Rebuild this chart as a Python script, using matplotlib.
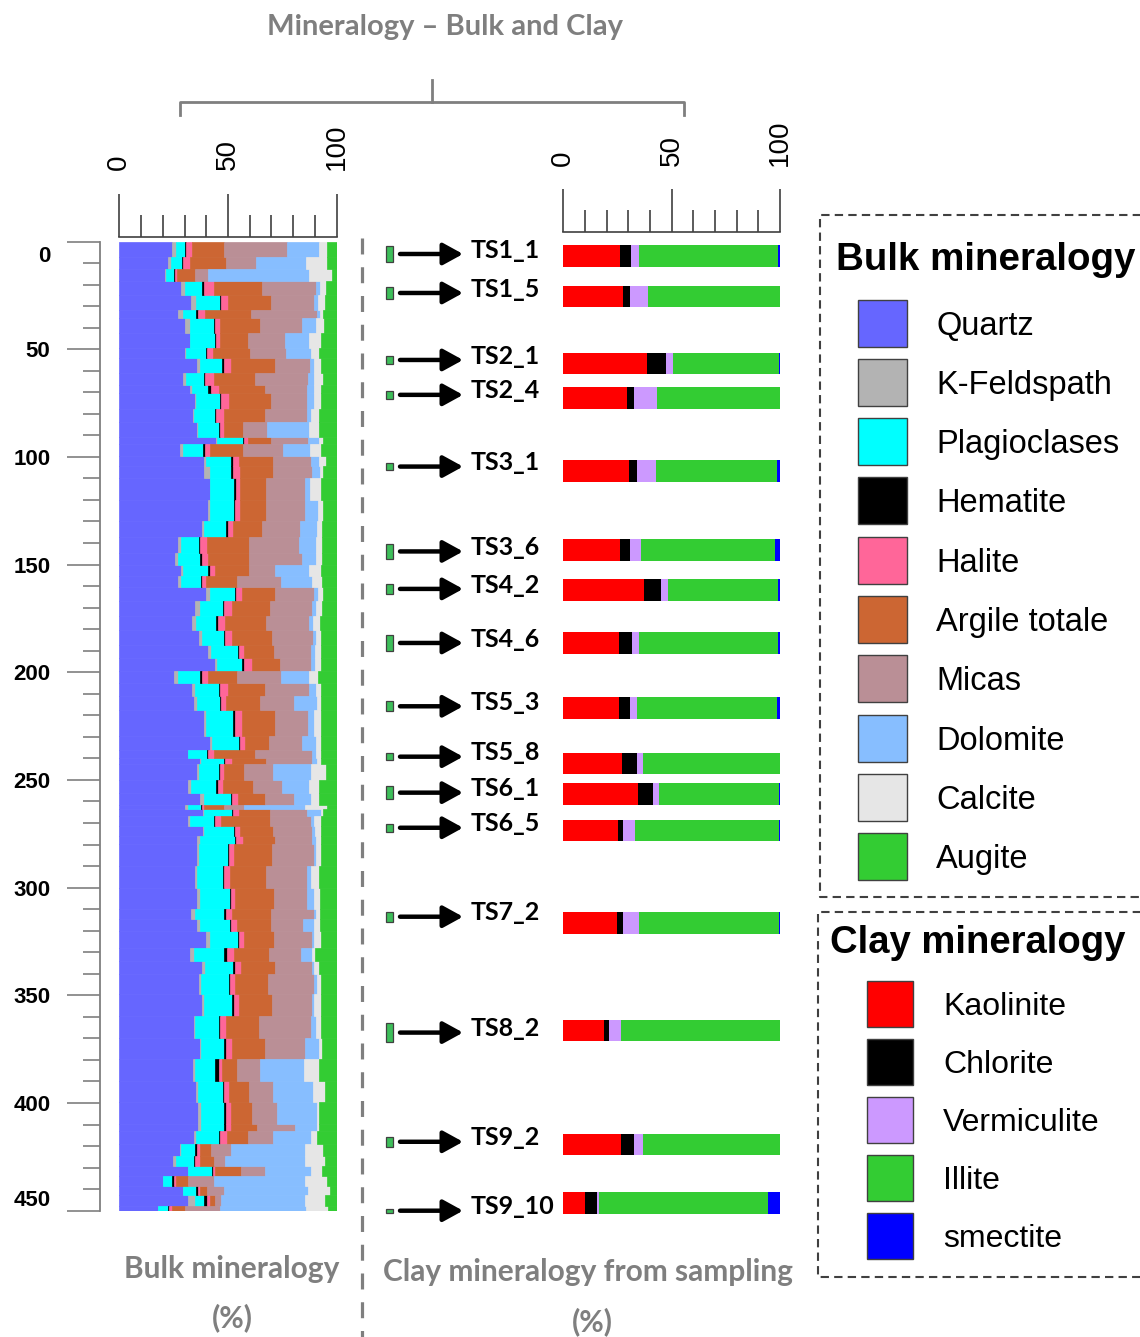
import matplotlib
matplotlib.use("Agg")
import matplotlib.pyplot as plt
import numpy as np
import matplotlib.transforms as mtransforms
from matplotlib.patches import Rectangle
from matplotlib.lines import Line2D

plt.rcParams['font.family'] = ['Liberation Sans', 'DejaVu Sans']

# ---------------- Bulk mineralogy data (depth of top of each interval, % per mineral) -------------
depth_top = [0, 7, 13, 18.5, 24.7, 31.7, 35.5, 42.4, 49.4, 54,
             61, 66.4, 70.2, 78, 84, 91, 94, 99.5, 104.2, 110,
             120, 130, 137, 144.7, 150, 155.5, 160.4, 167, 174, 180.2,
             187.2, 193.4, 199.5, 205, 211, 217.5, 229.7, 235.9, 239.7, 242.8,
             249.8, 256, 261.8, 263.7, 266.8, 271.4, 276, 279.9, 290, 300,
             310, 314.7, 320.1, 327.8, 334, 340.2, 349.5, 359.5, 369.6, 379.6,
             389.7, 399.7, 409.8, 412.9, 419, 424.5, 429.1, 433.7, 438.7, 442.7, 447.6]
depth_max = 450

quartz = [24.2, 22.6, 21, 28.5, 33, 26.8, 30.3, 32.3, 30.3, 35.7,
          29.2, 32.6, 34.9, 33.8, 35.7, 44.6, 28, 39, 39, 41.8,
          40.6, 38, 27.2, 25.7, 28.3, 27.2, 40, 34.9, 33.4, 36.5,
          41, 44.2, 25, 33.4, 34.2, 39, 41.8, 31.4, 36.9, 35.7,
          31.8, 37.2, 30.3, 38.5, 31.8, 38.5, 35.7, 35.7, 34.9, 35.7,
          32.9, 35.7, 40, 32.3, 38, 36.5, 38, 34.2, 36.9, 33.8,
          35.4, 36, 36, 34.2, 27.7, 24.6, 31.8, 20, 29.2, 31.8, 18]
kfeldspath = [2.0, 1.4, 0.5, 1.8, 2.4, 2.4, 2.3, 0.3, 0.5, 1.2,
              1.6, 0.8, 0.5, 0.4, 0.3, 0.4, 1.2, 1.0, 2.8, 0.0,
              0.9, 0.8, 1.1, 1.5, 1.2, 1.1, 1.5, 2.0, 2.0, 1.5,
              1.2, 0.8, 1.8, 1.6, 1.5, 1.0, 0.8, 0.4, 0.6, 0.8,
              1.1, 1.8, 1.2, 0.6, 0.5, 0.6, 1.5, 0.8, 0.8, 1.2,
              2.0, 1.2, 1.5, 1.9, 1.5, 1.0, 0.8, 0.7, 0.6, 1.1,
              0.6, 1.5, 1.5, 1.2, 0.6, 1.6, 0.0, 0.3, 0.3, 3.1, 0.0]
plagioclases = [4.2, 5.0, 3.7, 7.7, 11.1, 6.2, 11.1, 11.6, 9.2, 10.3,
                8.0, 7.6, 11.1, 10.0, 9.7, 12.0, 9.3, 11.4, 9.6, 11.1,
                11.1, 10.4, 8.2, 10.0, 11.5, 9.2, 11.9, 10.8, 9.2, 10.0,
                12.3, 11.5, 10.4, 10.7, 10.5, 12.5, 12.3, 8.5, 10.8, 9.2,
                11.7, 12.4, 6.0, 12.7, 11.1, 13.5, 16.2, 13.3, 12.0, 13.9,
                13.4, 13.9, 13.0, 14.1, 12.8, 12.8, 13.0, 10.8, 10.8, 9.3,
                11.7, 10.8, 10.8, 10.3, 6.6, 8.0, 10.8, 3.9, 5.9, 4.1, 4.2]
hematite = [0.5, 0.4, 0.6, 1.0, 0.3, 0.6, 0.5, 0.4, 0.3, 0.8,
            0.6, 1.0, 0.3, 0.4, 0.5, 0.2, 1.0, 0.9, 0.9, 0.9,
            0.8, 0.6, 0.7, 0.8, 0.5, 0.7, 0.4, 0.6, 0.6, 0.8,
            0.5, 0.7, 0.8, 0.8, 0.6, 0.9, 0.5, 0.7, 0.5, 0.5,
            0.6, 0.4, 0.5, 0.5, 0.8, 0.8, 0.4, 0.5, 0.6, 0.6,
            0.9, 0.6, 0.5, 1.2, 1.1, 0.5, 0.8, 0.8, 0.9, 1.5,
            0.6, 0.6, 0.6, 0.5, 0.8, 0.7, 0.4, 1.0, 0.6, 1.3, 0.8]
halite = [2.6, 2.9, 0.7, 4.4, 3.0, 3.5, 2.0, 1.9, 2.7, 3.4,
          4.0, 3.7, 3.5, 3.7, 1.8, 1.8, 2.3, 2.7, 3.1, 1.9,
          2.3, 2.5, 3.1, 2.6, 2.7, 1.8, 2.7, 3.5, 3.6, 3.0,
          2.5, 3.8, 3.0, 3.5, 2.4, 2.9, 2.6, 2.7, 3.0, 1.8,
          2.5, 2.7, 1.0, 2.7, 2.6, 2.3, 3.1, 2.6, 2.7, 2.0,
          2.6, 2.8, 2.5, 3.1, 2.6, 2.6, 2.3, 2.7, 2.6, 1.5,
          2.0, 2.5, 2.5, 3.3, 1.5, 2.0, 1.2, 1.0, 0.9, 1.2, 1.2]
argile_totale = [14.8, 16.9, 8.5, 22.3, 20.0, 21.1, 18.4, 12.5, 17.0, 20.0,
                 19.2, 21.5, 19.5, 18.5, 9.0, 10.8, 15.2, 15.8, 15.4, 12.0,
                 12.0, 13.4, 19.2, 18.9, 15.3, 14.2, 15.3, 17.4, 18.9, 18.5,
                 13.5, 12.8, 13.2, 17.2, 15.4, 15.3, 10.8, 18.5, 15.9, 9.5,
                 13.8, 12.7, 9.0, 14.5, 22.7, 15.1, 14.9, 17.4, 16.7, 17.6,
                 18.0, 15.6, 13.5, 16.2, 15.8, 14.9, 15.4, 15.0, 15.4, 7.0,
                 9.2, 9.6, 12.0, 9.5, 5.0, 6.8, 11.8, 5.6, 3.4, 2.7, 6.1]
micas = [28.7, 13.8, 6.0, 24.6, 19.7, 30.2, 19.6, 17.0, 16.5, 16.3,
         24.2, 19.3, 16.7, 19.7, 11.0, 17.0, 18.4, 17.5, 18.0, 17.5,
         17.5, 17.3, 23.1, 24.7, 12.3, 20.0, 17.7, 19.6, 19.5, 18.9,
         17.0, 14.5, 20.0, 20.0, 15.7, 15.4, 15.4, 26.6, 21.1, 13.3,
         13.4, 13.1, 9.5, 17.0, 18.8, 18.0, 17.0, 19.2, 18.5, 15.5,
         19.7, 14.8, 17.8, 14.6, 17.0, 21.2, 18.5, 23.8, 18.0, 10.4,
         11.3, 11.6, 17.2, 11.8, 9.2, 5.1, 11.2, 11.9, 7.7, 2.6, 16.2]
dolomite = [15.0, 23.0, 46.2, 2.0, 1.9, 1.5, 6.1, 11.2, 11.5, 1.8,
            2.7, 3.0, 3.0, 1.8, 19.2, 5.0, 12.3, 3.5, 3.5, 2.5,
            6.2, 8.0, 7.7, 6.1, 15.4, 14.6, 1.9, 1.5, 2.0, 1.1,
            1.8, 1.5, 13.0, 3.1, 10.7, 2.6, 6.1, 1.5, 2.2, 17.5,
            12.3, 8.0, 27.7, 6.1, 1.2, 1.0, 1.5, 0.8, 2.1, 3.0,
            0.8, 4.9, 0.7, 5.4, 0.7, 1.3, 0.7, 2.3, 6.6, 20.3,
            18.4, 18.4, 10.4, 17.5, 33.8, 36.4, 21.1, 41.5, 38.8, 38.4, 39.2]
calcite = [3.4, 9.4, 10.8, 2.7, 3.1, 1.5, 3.9, 5.4, 3.8, 3.1,
           4.3, 3.1, 3.1, 3.5, 4.6, 2.0, 4.9, 3.2, 1.5, 4.9,
           2.4, 2.4, 3.1, 3.1, 5.4, 4.6, 2.4, 3.1, 3.1, 2.6,
           3.1, 2.8, 4.2, 2.3, 1.9, 3.1, 2.3, 2.3, 1.9, 6.6,
           4.6, 3.5, 10.2, 1.2, 3.1, 2.8, 2.3, 2.3, 3.5, 2.8,
           2.0, 2.8, 3.1, 1.0, 2.3, 1.8, 3.1, 2.3, 1.6, 6.9,
           5.3, 0.8, 0.8, 2.5, 8.6, 9.3, 5.1, 10.2, 10.1, 9.3, 10.3]
augite = [4.6, 4.6, 2.0, 5.0, 5.5, 6.2, 5.8, 7.4, 8.2, 7.4,
          6.2, 7.4, 7.4, 8.2, 8.2, 6.2, 7.4, 5.0, 6.2, 7.4,
          6.2, 6.6, 6.6, 6.6, 7.4, 6.6, 6.2, 6.6, 7.7, 7.1,
          7.1, 7.4, 8.6, 7.4, 7.1, 7.3, 7.4, 7.4, 7.1, 5.1,
          8.2, 8.2, 4.6, 6.2, 7.4, 7.4, 7.4, 7.4, 8.2, 7.7,
          7.7, 7.7, 7.4, 10.2, 8.2, 7.4, 7.4, 7.4, 6.6, 8.2,
          5.5, 8.2, 8.2, 9.2, 6.2, 5.5, 6.6, 4.6, 3.1, 5.5, 4.0]

bulk_names = ['Quartz', 'K-Feldspath', 'Plagioclases', 'Hematite', 'Halite',
              'Argile totale', 'Micas', 'Dolomite', 'Calcite', 'Augite']
bulk_colors = ['#6666FF', '#B3B3B3', '#00FFFF', '#000000', '#FF6699',
               '#CC6633', '#BA8F96', '#87BEFF', '#E6E6E6', '#33CC33']
bulk_values = [quartz, kfeldspath, plagioclases, hematite, halite,
               argile_totale, micas, dolomite, calcite, augite]

# ---------------- Clay mineralogy data ----------------
samples = ['TS1_1', 'TS1_5', 'TS2_1', 'TS2_4', 'TS3_1', 'TS3_6', 'TS4_2', 'TS4_6',
           'TS5_3', 'TS5_8', 'TS6_1', 'TS6_5', 'TS7_2', 'TS8_2', 'TS9_2', 'TS9_10']
sample_depth = [5.8, 23.9, 55.0, 71.2, 104.5, 143.9, 161.3, 186.4,
                215.8, 239.2, 255.9, 272.2, 313.5, 367.3, 418.0, 450.0]
bar_depth = [6.7, 25.5, 56.6, 72.6, 106.5, 143.2, 161.7, 186.5,
             216.5, 242.4, 256.5, 273.4, 316.4, 366.4, 419.2, 446.4]
sample_thickness = [7, 6, 3.5, 3.5, 3.5, 7, 4.5, 7, 4.5, 3.5, 6, 3.5, 4.5, 9, 4.5, 2]
kaolinite = [26.2, 27.7, 38.5, 29.2, 30.3, 26.2, 37.2, 25.8, 25.8, 27.2, 34.5, 25.2, 24.6, 18.8, 26.5, 10.2]
chlorite = [5.0, 3.1, 8.9, 3.6, 3.5, 4.6, 7.7, 6.0, 5.0, 6.6, 7.0, 2.5, 3.1, 2.4, 6.3, 5.5]
vermiculite = [3.9, 8.4, 3.1, 10.6, 9.0, 4.9, 3.6, 3.3, 3.0, 3.1, 2.8, 5.5, 7.1, 5.4, 4.1, 0.8]
illite = [63.8, 60.8, 49.0, 56.6, 55.7, 62.0, 50.4, 63.8, 64.8, 63.1, 55.2, 66.3, 64.7, 73.4, 63.1, 78.1]
smectite = [1.1, 0.0, 0.5, 0.0, 1.5, 2.3, 1.1, 1.1, 1.4, 0.0, 0.5, 0.5, 0.5, 0.0, 0.0, 5.4]

clay_names = ['Kaolinite', 'Chlorite', 'Vermiculite', 'Illite', 'smectite']
clay_colors = ['#FF0000', '#000000', '#CC99FF', '#33CC33', '#0000FF']
clay_values = [kaolinite, chlorite, vermiculite, illite, smectite]

depth_ticks = [0, 50, 100, 150, 200, 250, 300, 350, 400, 450]
pct_ticks = [0, 50, 100]

# ---------------- Figure ----------------
W, H = 1140, 1337
fig = plt.figure(figsize=(W / 100, H / 100), dpi=100)
PX = 0.72
GRAY = '#7F7F7F'
DARK = '#404040'


def fx(x):
    return x / W


def fy(y):
    return 1 - y / H


def rect(x0, y0, x1, y1):
    return [fx(x0), fy(y1), (x1 - x0) / W, (y1 - y0) / H]


def ruler(ax, offset_px):
    for s in ['left', 'right', 'bottom']:
        ax.spines[s].set_visible(False)
    ax.spines['top'].set_position(('outward', offset_px * PX))
    ax.spines['top'].set_color(DARK)
    ax.spines['top'].set_linewidth(1.2)
    ax.xaxis.set_ticks_position('top')
    ax.set_xticks(pct_ticks)
    ax.set_xticks(np.arange(0, 101, 10), minor=True)
    ax.tick_params(axis='x', which='major', direction='out', length=43 * PX, width=1.2,
                   color=DARK, labelsize=20, pad=23 * PX, labelrotation=90)
    ax.tick_params(axis='x', which='minor', direction='out', length=22 * PX, width=1.2, color=DARK)


# Bulk panel
ax1 = fig.add_axes(rect(119.3, 241.5, 336.7, 1210.7))
heights = np.diff(np.array(depth_top + [depth_max]))
left = np.zeros(len(depth_top))
for vals, col in zip(bulk_values, bulk_colors):
    v = np.array(vals)
    ax1.barh(depth_top, v, left=left, height=heights, align='edge',
             color=col, edgecolor=col, linewidth=0.5)
    left += v
ax1.set_xlim(0, 100)
ax1.set_ylim(depth_max, 0)
ruler(ax1, 5)
ax1.spines['left'].set_visible(True)
ax1.spines['left'].set_position(('outward', 19 * PX))
ax1.spines['left'].set_color(GRAY)
ax1.spines['left'].set_linewidth(1.3)
ax1.set_yticks(depth_ticks)
ax1.set_yticks(np.arange(0, 451, 10), minor=True)
ax1.tick_params(axis='y', which='major', direction='out', length=33 * PX, width=1.2,
                color=GRAY, labelsize=16, pad=17 * PX)
ax1.tick_params(axis='y', which='minor', direction='out', length=17 * PX, width=1.2, color=GRAY)
ylabs = ax1.get_yticklabels()
for lab in ylabs:
    lab.set_fontweight('bold')
ylabs[0].set_transform(ylabs[0].get_transform() +
                       mtransforms.ScaledTranslation(0, -13 / 100, fig.dpi_scale_trans))
ylabs[-1].set_transform(ylabs[-1].get_transform() +
                        mtransforms.ScaledTranslation(0, 13 / 100, fig.dpi_scale_trans))

# Clay panel
ax2 = fig.add_axes(rect(563.3, 241.5, 780, 1210.7))
left = np.zeros(len(samples))
for vals, col in zip(clay_values, clay_colors):
    v = np.array(vals)
    ax2.barh(bar_depth, v, left=left, height=10, color=col, linewidth=0, clip_on=False)
    left += v
ax2.set_xlim(0, 100)
ax2.set_ylim(depth_max, 0)
ruler(ax2, 9.5)
ax2.set_yticks([])

tr = mtransforms.blended_transform_factory(fig.transFigure, ax2.transData)
for name, d, th in zip(samples, sample_depth, sample_thickness):
    ax2.annotate('', xy=(fx(463), d), xytext=(fx(400), d), xycoords=tr, textcoords=tr,
                 arrowprops=dict(arrowstyle='-|>,head_length=0.6,head_width=0.33', lw=3.2,
                                 color='black', mutation_scale=20, shrinkA=0, shrinkB=0),
                 annotation_clip=False)
    ax2.text(fx(471), d - 1.8, name, transform=tr, ha='left', va='center', fontsize=18,
             fontweight='bold', family=['Lato', 'DejaVu Sans'], clip_on=False)
    fig.add_artist(Rectangle((fx(386), d - th / 2), 7 / W, th, transform=tr,
                             facecolor='#3DBE5A', edgecolor='#404040', lw=0.9))

# Separator
fig.add_artist(Line2D([fx(362), fx(362)], [fy(238), fy(1337)], color=GRAY, lw=2.3,
                      linestyle=(0, (5, 4)), transform=fig.transFigure))

# Title and bracket
tfont = dict(fontweight='bold', color=GRAY, family=['Lato', 'DejaVu Sans'],
             ha='center', va='center')
fig.text(fx(445), fy(27), 'Mineralogy \u2013 Bulk and Clay', fontsize=21, **tfont)
fig.add_artist(Line2D([fx(180), fx(180), fx(684), fx(684)], [fy(115), fy(102), fy(102), fy(115)],
                      color=GRAY, lw=2, transform=fig.transFigure, solid_joinstyle='round'))
fig.add_artist(Line2D([fx(432), fx(432)], [fy(102), fy(80)], color=GRAY, lw=2,
                      transform=fig.transFigure))
fig.text(fx(232), fy(1269), 'Bulk mineralogy', fontsize=21.5, **tfont)
fig.text(fx(232), fy(1318), '(%)', fontsize=21.5, **tfont)
fig.text(fx(588), fy(1272), 'Clay mineralogy from sampling', fontsize=21.5, **tfont)
fig.text(fx(592), fy(1322), '(%)', fontsize=21.5, **tfont)

# Legends
def dashed_box(x0, y0, y1):
    fig.add_artist(Line2D([fx(1150), fx(x0), fx(x0), fx(1150)], [fy(y0), fy(y0), fy(y1), fy(y1)],
                          color=DARK, lw=1.5, linestyle=(0, (4, 2.5)), transform=fig.transFigure))

dashed_box(820, 215, 897)
fig.text(fx(836), fy(260), 'Bulk mineralogy', fontsize=27.7, fontweight='bold', ha='left', va='center')
for i, (name, col) in enumerate(zip(bulk_names, bulk_colors)):
    yc = 323 + i * 59.3
    fig.add_artist(Rectangle((fx(858), fy(yc + 23.5)), 49 / W, 47 / H, transform=fig.transFigure,
                             facecolor=col, edgecolor=DARK, lw=1))
    fig.text(fx(936), fy(yc + 3), name, fontsize=23.5, ha='left', va='center')

dashed_box(818, 912, 1277)
fig.text(fx(830), fy(943), 'Clay mineralogy', fontsize=27.5, fontweight='bold', ha='left', va='center')
for i, (name, col) in enumerate(zip(clay_names, clay_colors)):
    yc = 1004 + i * 58
    fig.add_artist(Rectangle((fx(867), fy(yc + 23)), 46 / W, 46 / H, transform=fig.transFigure,
                             facecolor=col, edgecolor=DARK, lw=1))
    fig.text(fx(943), fy(yc + 3), name, fontsize=23, ha='left', va='center')

fig.savefig('out.png', dpi=100)
